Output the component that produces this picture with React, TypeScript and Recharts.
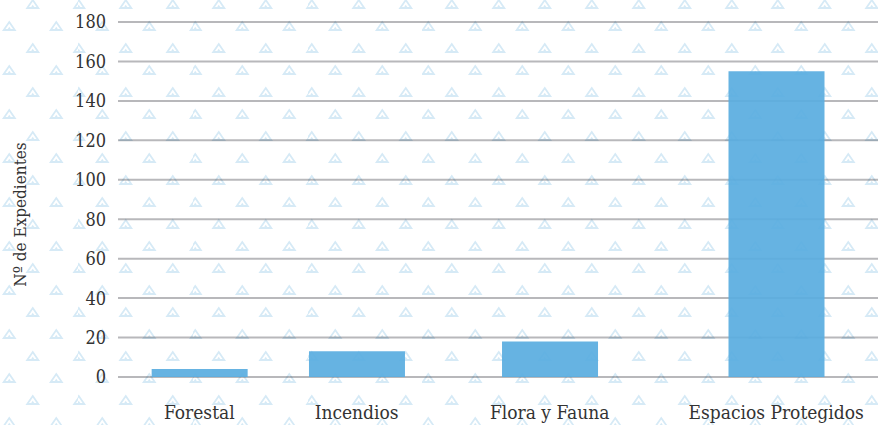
import { BarChart, Bar, XAxis, YAxis, CartesianGrid } from 'recharts';

// categorías y valores
const categories = ['Forestal', 'Incendios', 'Flora y Fauna', 'Espacios Protegidos'];
const expedientes = [4, 13, 18, 155];
// posición de cada categoría en el eje (escala 0-10)
const xPos = [1.07, 3.14, 5.68, 8.66];
const yTicks = [0, 20, 40, 60, 80, 100, 120, 140, 160, 180];

const data = categories.map((name, i) => ({ name, x: xPos[i], value: expedientes[i] }));

const FONT = '"DejaVu Serif Condensed", "DejaVu Serif", serif';

const tri = (cx: number, cy: number) =>
    `<path d='M${cx} ${cy - 4} L${cx + 5.5} ${cy + 4} L${cx - 5.5} ${cy + 4} Z' fill='none' stroke='%23d6eaf6' stroke-width='1.8'/>` +
    `<path d='M${cx} ${cy + 0.8} L${cx + 1.5} ${cy + 3} L${cx - 1.5} ${cy + 3} Z' fill='%23d6eaf6'/>`;

const pattern =
    `url("data:image/svg+xml;utf8,<svg xmlns='http://www.w3.org/2000/svg' width='46.6' height='44'>` +
    tri(11.65, 11) + tri(34.95, 33) + `</svg>")`;

const YLabel = (props: any) => {
    const vb = props.viewBox;
    const x = vb.x - 18;
    const y = vb.y + vb.height / 2 + 15;
    return (
        <text x={x} y={y} transform={`rotate(-90, ${x}, ${y})`} textAnchor="middle" dominantBaseline="central"
            fill="#333" fontSize={17} fontFamily={FONT}>
            Nº de Expedientes
        </text>
    );
};

export default function App() {
    return (
        <div style={{
            position: 'absolute', left: 0, top: 0, width: 878, height: 425, background: '#fff',
            backgroundImage: pattern, backgroundSize: '46.6px 44px', backgroundPosition: '21px -7px'
        }}>
            <BarChart width={878} height={425} data={data} margin={{ top: 22, right: 0, bottom: 0, left: 38 }}>
                <XAxis
                    dataKey="x"
                    type="number"
                    domain={[0, 10]}
                    ticks={xPos}
                    interval={0}
                    tickFormatter={(_v: number, i: number) => categories[i]}
                    axisLine={false}
                    tickLine={false}
                    tickMargin={23}
                    height={48}
                    tick={{ fill: '#333', fontSize: 19, fontFamily: FONT }}
                />
                <YAxis
                    domain={[0, 180]}
                    ticks={yTicks}
                    interval={0}
                    axisLine={false}
                    tickLine={false}
                    tickMargin={6}
                    width={80}
                    tick={{ fill: '#333', fontSize: 18, fontFamily: FONT }}
                    label={{ content: YLabel }}
                />
                <Bar dataKey="value" barSize={96} fill="#5aade0" fillOpacity={0.93} isAnimationActive={false} />
                <CartesianGrid vertical={false} stroke="rgba(35,35,45,0.32)" strokeWidth={2} />
            </BarChart>
        </div>
    );
}
